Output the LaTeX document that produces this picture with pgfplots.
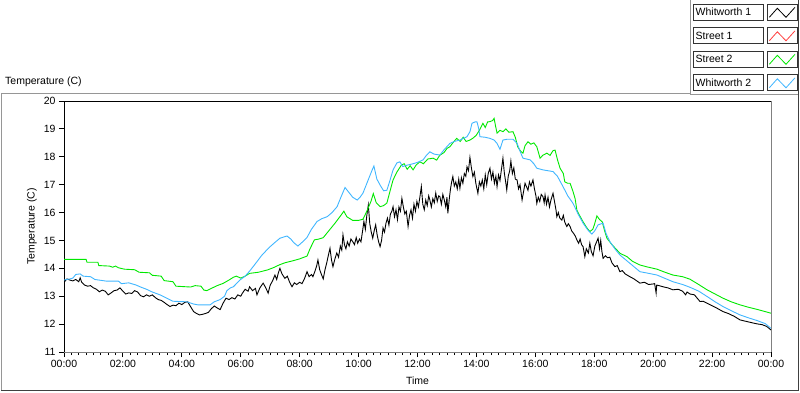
\documentclass[border=0pt]{standalone}
\usepackage{fontspec}
\setmainfont{Liberation Sans}
\usepackage{pgfplots}
\pgfplotsset{compat=1.18}
\definecolor{wgreen}{RGB}{0,232,0}
\definecolor{wblue}{RGB}{64,182,255}
\definecolor{wred}{RGB}{255,64,64}
\definecolor{framegray}{RGB}{150,150,150}
\definecolor{axgray}{RGB}{128,128,128}
\begin{document}
\begin{tikzpicture}[x=1pt,y=1pt,font=\fontsize{10.5}{12.5}\selectfont]
\useasboundingbox (0,0) rectangle (800,392);
% frame
\draw[framegray] (1,2) -- (1,299) -- (690,299);
\draw[framegray] (690,392) -- (690,297.5) -- (798,297.5);
\draw[black!75] (798,392) -- (798,2) -- (1,2);
\node[anchor=west, inner sep=0pt] at (5,310) {Temperature (C)};
\begin{axis}[
  at={(64pt,40pt)}, anchor=south west,
  scale only axis, width=707pt, height=251pt,
  xmin=0, xmax=24, ymin=11, ymax=20,
  axis x line*=bottom, axis y line*=left,
  x axis line style={axgray, line width=1pt},
  y axis line style={black, line width=1pt},
  xtick={0,2,...,24},
  xticklabels={00:00,02:00,04:00,06:00,08:00,10:00,12:00,14:00,16:00,18:00,20:00,22:00,00:00},
  minor x tick num=7,
  ytick={11,12,...,20},
  tick align=outside,
  major tick length=5pt, minor tick length=3pt,
  tick style={black, line width=0.9pt},
  /pgf/number format/assume math mode=true,
  tick label style={font=\fontsize{10.5}{12.5}\selectfont},
  label style={font=\fontsize{10.5}{12.5}\selectfont},
  xlabel={Time}, ylabel={Temperature (C)},
  xlabel style={yshift=-2.5pt},
  clip=true,
  after end axis/.code={
    \draw[black, line width=1pt] (rel axis cs:0,1) -- (rel axis cs:1,1);
    \draw[axgray, line width=1pt] (rel axis cs:1,1) -- (rel axis cs:1,0);
  },
]
% Whitworth 1
\addplot[black, line width=0.9pt] table {
0.0 13.50
0.1 13.62
0.2 13.58
0.3 13.55
0.4 13.60
0.5 13.52
0.55 13.66
0.6 13.50
0.7 13.40
0.8 13.36
0.9 13.38
1.0 13.30
1.1 13.25
1.2 13.16
1.3 13.22
1.4 13.18
1.5 13.05
1.6 13.12
1.7 13.20
1.8 13.22
1.9 13.30
2.0 13.18
2.1 13.08
2.2 13.12
2.3 13.10
2.4 13.20
2.5 13.15
2.6 13.02
2.7 12.98
2.8 13.05
2.9 13.00
3.0 13.05
3.1 12.95
3.2 12.88
3.3 12.85
3.4 12.78
3.5 12.70
3.6 12.63
3.7 12.68
3.8 12.66
3.9 12.75
4.0 12.70
4.1 12.78
4.2 12.80
4.3 12.62
4.4 12.45
4.5 12.38
4.6 12.33
4.7 12.35
4.8 12.38
4.9 12.42
5.0 12.55
5.1 12.65
5.2 12.58
5.3 12.52
5.4 12.75
5.5 12.93
5.6 12.88
5.7 12.95
5.8 12.90
5.9 13.05
6.0 13.00
6.05 13.10
6.15 13.25
6.25 13.18
6.30 13.34
6.40 13.20
6.50 13.28
6.55 13.05
6.65 13.30
6.76 13.47
6.85 13.30
6.93 13.11
7.00 13.40
7.08 13.55
7.16 13.76
7.22 13.60
7.28 13.85
7.33 14.00
7.40 13.80
7.50 13.64
7.58 13.72
7.66 13.50
7.74 13.34
7.82 13.48
7.90 13.42
8.00 13.50
8.08 13.45
8.16 13.62
8.25 13.88
8.32 13.70
8.40 13.78
8.45 13.70
8.52 13.90
8.58 14.10
8.62 14.30
8.68 13.95
8.75 13.75
8.80 13.62
8.86 13.95
8.92 14.20
8.97 14.45
9.03 14.72
9.08 14.30
9.13 14.06
9.20 14.35
9.26 14.55
9.32 14.40
9.38 14.80
9.43 14.65
9.47 15.20
9.52 14.85
9.57 14.70
9.62 14.95
9.68 14.80
9.74 15.05
9.80 14.96
9.86 14.85
9.92 15.10
9.97 14.90
10.03 15.05
10.08 14.95
10.13 15.30
10.18 15.68
10.23 15.40
10.28 15.90
10.33 16.27
10.38 15.60
10.43 15.30
10.48 15.08
10.53 15.35
10.58 15.56
10.63 15.20
10.68 14.95
10.73 14.78
10.78 15.00
10.83 15.45
10.88 15.30
10.93 15.62
10.98 15.80
11.03 15.55
11.08 15.95
11.13 16.05
11.17 16.21
11.22 15.85
11.27 16.10
11.32 15.75
11.37 16.20
11.42 16.05
11.47 16.51
11.52 16.20
11.57 15.95
11.62 16.05
11.68 15.50
11.73 15.90
11.78 16.10
11.83 15.80
11.88 16.30
11.93 16.05
11.98 16.40
12.03 16.20
12.08 16.55
12.13 16.93
12.18 16.30
12.23 16.10
12.28 16.45
12.33 16.25
12.38 16.60
12.42 16.45
12.47 16.20
12.52 16.50
12.57 16.35
12.62 16.70
12.67 16.40
12.72 16.60
12.76 16.57
12.81 16.30
12.86 16.65
12.91 16.45
12.96 16.20
13.00 16.55
13.03 15.97
13.08 16.50
13.12 16.85
13.16 17.10
13.20 17.29
13.25 16.95
13.30 17.10
13.35 16.85
13.40 17.20
13.44 16.87
13.49 17.25
13.54 17.05
13.59 17.40
13.64 17.30
13.68 17.64
13.73 17.50
13.78 17.98
13.83 17.60
13.88 17.29
13.93 17.45
13.98 17.05
14.05 16.69
14.10 17.10
14.15 16.95
14.20 17.17
14.25 16.85
14.30 17.35
14.35 17.00
14.40 17.40
14.46 17.59
14.51 17.20
14.56 17.45
14.61 17.05
14.66 17.30
14.70 16.93
14.75 17.35
14.80 17.15
14.85 17.55
14.90 17.95
14.95 17.40
15.00 17.05
15.03 16.81
15.08 17.30
15.13 17.50
15.17 17.85
15.22 17.40
15.27 17.60
15.32 17.20
15.38 17.17
15.43 16.85
15.48 17.00
15.55 16.45
15.60 16.75
15.65 17.05
15.70 16.93
15.75 16.80
15.80 17.10
15.85 16.95
15.92 17.17
15.97 16.85
16.02 16.60
16.05 16.33
16.10 16.55
16.15 16.40
16.20 16.65
16.26 16.57
16.30 16.35
16.33 16.63
16.38 16.30
16.43 16.55
16.48 16.20
16.53 16.45
16.60 16.69
16.65 16.40
16.70 16.10
16.73 15.85
16.78 16.00
16.83 15.80
16.90 15.73
16.95 15.90
17.00 15.65
17.07 15.50
17.12 15.60
17.18 15.50
17.23 15.35
17.30 15.25
17.36 15.15
17.41 15.02
17.47 14.90
17.52 15.05
17.57 14.85
17.62 14.78
17.68 14.42
17.73 14.70
17.80 14.55
17.85 14.90
17.90 14.60
17.96 14.45
18.02 14.80
18.08 14.95
18.13 15.08
18.18 14.70
18.22 15.00
18.26 14.60
18.30 14.36
18.38 14.45
18.45 14.38
18.53 14.40
18.60 14.20
18.70 14.06
18.78 14.10
18.87 13.88
18.95 13.92
19.05 13.80
19.21 13.70
19.35 13.62
19.55 13.47
19.70 13.50
19.85 13.42
20.00 13.44
20.05 13.45
20.10 13.11
20.12 13.40
20.20 13.38
20.33 13.34
20.50 13.30
20.67 13.23
20.85 13.25
21.00 13.18
21.10 13.05
21.15 13.15
21.25 13.08
21.40 13.05
21.59 12.81
21.70 12.82
21.83 12.75
22.00 12.66
22.15 12.58
22.37 12.45
22.55 12.38
22.75 12.28
22.95 12.15
23.15 12.10
23.35 12.05
23.52 12.01
23.70 11.98
23.85 11.92
24.00 11.79
};
% Street 2
\addplot[wgreen, line width=0.9pt] table {
0.00 14.32
0.75 14.32
0.78 14.22
1.15 14.22
1.18 14.10
1.55 14.08
1.65 14.04
1.75 14.08
1.85 14.02
2.05 13.97
2.40 13.95
2.55 13.86
2.90 13.84
3.00 13.75
3.30 13.72
3.40 13.56
3.70 13.52
3.80 13.36
4.30 13.33
4.45 13.38
4.65 13.36
4.75 13.22
4.85 13.20
5.00 13.28
5.20 13.38
5.40 13.46
5.60 13.58
5.75 13.68
5.85 13.72
6.00 13.65
6.15 13.72
6.30 13.82
6.60 13.86
6.90 13.94
7.10 14.02
7.30 14.12
7.50 14.20
7.80 14.28
8.00 14.34
8.25 14.44
8.35 14.70
8.50 15.02
8.65 15.05
8.80 15.10
9.00 15.36
9.20 15.62
9.40 15.90
9.50 16.05
9.60 15.85
9.80 15.72
10.00 15.72
10.15 15.76
10.28 16.05
10.42 16.40
10.50 16.68
10.60 16.35
10.73 16.21
10.85 16.25
10.96 16.34
11.05 16.70
11.17 17.17
11.30 17.45
11.45 17.70
11.55 17.75
11.65 17.55
11.75 17.68
11.85 17.53
11.95 17.70
12.08 17.82
12.20 17.75
12.35 17.92
12.53 17.95
12.65 17.88
12.76 18.06
12.90 18.15
13.00 18.30
13.10 18.36
13.20 18.50
13.33 18.66
13.45 18.55
13.55 18.70
13.65 18.55
13.78 18.60
13.90 18.68
14.00 18.78
14.10 18.95
14.22 19.20
14.30 19.05
14.38 19.25
14.46 19.26
14.55 19.30
14.60 19.38
14.65 19.10
14.70 18.85
14.80 18.95
14.90 18.90
15.00 19.00
15.10 18.88
15.24 18.90
15.32 18.70
15.40 18.36
15.50 18.20
15.58 18.13
15.65 18.40
15.75 18.54
15.85 18.45
15.95 18.50
16.05 18.36
16.16 17.95
16.25 18.05
16.39 18.13
16.50 18.05
16.60 18.22
16.67 18.24
16.75 17.90
16.84 17.59
16.95 17.40
17.00 17.10
17.10 17.05
17.18 17.05
17.28 16.75
17.35 16.50
17.41 16.09
17.50 15.90
17.62 15.67
17.75 15.45
17.85 15.32
17.95 15.40
18.00 15.55
18.09 15.88
18.18 15.75
18.27 15.67
18.35 15.35
18.43 15.08
18.60 14.85
18.75 14.68
18.87 14.54
19.11 14.42
19.30 14.25
19.55 14.12
19.80 14.05
20.13 13.97
20.40 13.86
20.67 13.76
21.00 13.70
21.25 13.61
21.50 13.45
21.83 13.23
22.10 13.08
22.37 12.93
22.65 12.80
22.95 12.69
23.25 12.60
23.52 12.53
23.80 12.45
24.00 12.39
};
% Whitworth 2
\addplot[wblue, line width=0.9pt] table {
0.00 13.58
0.20 13.62
0.30 13.65
0.40 13.78
0.55 13.80
0.65 13.72
0.90 13.70
1.05 13.60
1.45 13.54
1.85 13.54
1.95 13.45
2.20 13.48
2.45 13.40
2.60 13.33
2.80 13.25
3.00 13.15
3.26 13.05
3.45 12.95
3.70 12.82
4.17 12.80
4.40 12.72
4.55 12.69
4.96 12.69
5.10 12.80
5.30 12.88
5.45 13.00
5.53 13.20
5.65 13.30
5.75 13.34
5.90 13.50
5.97 13.58
6.15 13.72
6.30 13.90
6.45 14.10
6.55 14.24
6.70 14.45
6.85 14.62
7.00 14.78
7.15 14.92
7.33 15.08
7.57 15.16
7.70 15.05
7.80 14.92
7.94 14.80
8.10 14.95
8.25 15.11
8.40 15.40
8.59 15.68
8.75 15.78
8.93 15.85
9.10 16.00
9.27 16.21
9.40 16.55
9.54 16.90
9.65 16.75
9.80 16.55
9.95 16.45
10.05 16.55
10.15 16.70
10.30 17.10
10.45 17.50
10.52 17.67
10.62 17.20
10.75 16.95
10.85 16.78
10.96 16.80
11.05 17.10
11.17 17.53
11.30 17.78
11.40 17.82
11.50 17.65
11.65 17.70
11.85 17.75
12.00 17.80
12.19 17.89
12.30 18.05
12.42 18.18
12.55 18.10
12.76 18.06
12.90 18.25
13.10 18.48
13.25 18.55
13.44 18.60
13.68 18.72
13.78 18.90
13.85 19.20
13.95 19.25
14.02 19.25
14.08 19.00
14.12 18.72
14.30 18.70
14.46 18.66
14.60 18.60
14.70 18.48
14.80 18.27
14.90 18.60
15.05 18.63
15.24 18.63
15.38 18.48
15.48 18.20
15.58 17.95
15.82 17.89
15.95 17.75
16.05 17.59
16.26 17.53
16.60 17.47
16.75 17.30
16.94 16.93
17.10 16.60
17.28 16.33
17.45 15.95
17.62 15.62
17.80 15.35
17.92 15.23
18.02 15.35
18.13 15.56
18.30 15.62
18.40 15.25
18.53 14.96
18.70 14.70
18.87 14.48
19.21 14.18
19.55 13.88
19.85 13.82
20.13 13.76
20.40 13.64
20.67 13.52
21.00 13.42
21.25 13.32
21.55 13.18
21.83 12.99
22.10 12.80
22.37 12.63
22.65 12.48
22.95 12.33
23.25 12.22
23.52 12.13
23.80 12.02
24.00 11.85
};
\end{axis}
% legend
\foreach \yc/\lab/\col in {380/Whitworth 1/black, 356.5/Street 1/wred, 333/Street 2/wgreen, 309.5/Whitworth 2/wblue}{
  \draw[black!80, fill=white] (693,\yc-8) rectangle (763,\yc+8);
  \node[anchor=west, inner sep=0pt] at (695.5,\yc) {\lab};
  \draw[black!80, fill=white] (767,\yc-8) rectangle (797,\yc+8);
  \draw[\col, line width=0.8pt] (769.3,\yc-5.3) -- (777.3,\yc+3.7) -- (786,\yc-5.3) -- (795,\yc+4.7);
}
\end{tikzpicture}
\end{document}
